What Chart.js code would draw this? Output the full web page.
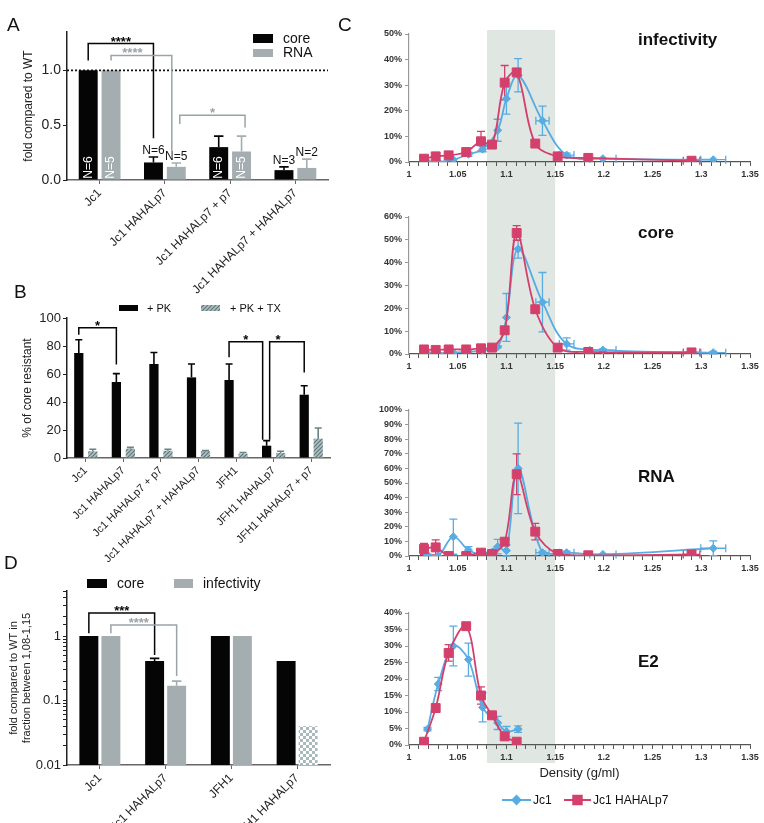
<!DOCTYPE html>
<html>
<head>
<meta charset="utf-8">
<script src="https://cdn.jsdelivr.net/npm/chart.js@4.4.1/dist/chart.umd.min.js"></script>
<style>
  body { margin: 0; background: #fff; }
  #fig { position: relative; width: 764px; height: 823px; overflow: hidden; background: #fff; font-family: 'Liberation Sans', Arial, sans-serif; }
  #fig canvas { position: absolute; }
  .tag { position: absolute; font-size: 19px; line-height: 19px; color: #111; }
</style>
</head>
<body>
<div id="fig">
  <canvas id="chartA" width="350" height="295" style="left:0;top:0"></canvas>
  <canvas id="chartB" width="350" height="300" style="left:0;top:265px"></canvas>
  <canvas id="chartD" width="350" height="258" style="left:0;top:565px"></canvas>
  <canvas id="chartC1" width="404" height="190" style="left:360px;top:0"></canvas>
  <canvas id="chartC2" width="404" height="200" style="left:360px;top:190px"></canvas>
  <canvas id="chartC3" width="404" height="200" style="left:360px;top:390px"></canvas>
  <canvas id="chartC4" width="404" height="233" style="left:360px;top:590px"></canvas>
  <div class="tag" style="left:7px;top:15px">A</div>
  <div class="tag" style="left:14px;top:282px">B</div>
  <div class="tag" style="left:338px;top:15px">C</div>
  <div class="tag" style="left:4px;top:553px">D</div>
</div>
<script>
// ---- panel A: fold compared to WT
const catA = ['Jc1', 'Jc1 HAHALp7', 'Jc1 HAHALp7 + p7', 'Jc1 HAHALp7 + HAHALp7'];
const coreA = [1.0, 0.16, 0.30, 0.09];
const coreErrA = [0, 0.05, 0.10, 0.03];
const rnaA = [1.0, 0.12, 0.26, 0.11];
const rnaErrA = [0, 0.035, 0.14, 0.08];
const coreNA = ['N=6', 'N=6', 'N=6', 'N=3'];
const rnaNA = ['N=5', 'N=5', 'N=5', 'N=2'];

// ---- panel B: % of core resistant
const catB = ['Jc1', 'Jc1 HAHALp7', 'Jc1 HAHALp7 + p7', 'Jc1 HAHALp7 + HAHALp7', 'JFH1', 'JFH1 HAHALp7', 'JFH1 HAHALp7 + p7'];
const pkB = [75, 54.3, 67.1, 57.6, 55.7, 8.8, 45.2];
const pkErrB = [9.5, 6, 8.3, 9.5, 11.4, 3.6, 6.4];
const pktxB = [4.8, 6.6, 5.2, 4.8, 3.1, 3.6, 13.8];
const pktxErrB = [1.4, 1, 1, 0.5, 0.8, 1.2, 7.6];

// ---- panel D: fold in fraction 1.08-1.15 (log)
const catD = ['Jc1', 'Jc1 HAHALp7', 'JFH1', 'JFH1 HAHALp7'];
const coreD = [1, 0.41, 1, 0.41];
const coreErrD = [0, 0.04, 0, 0];
const infD = [1, 0.17, 1, 0.04];
const infErrD = [0, 0.03, 0, 0];

// ---- panel C: gradient fractions
const jc1Density = [1.019, 1.030, 1.0455, 1.061, 1.0756, 1.091, 1.100, 1.112, 1.137, 1.1618, 1.199, 1.3123];
const jc1DensityErr = [0, 0, 0, 0, 0, 0, 0, 0, 0.0068, 0.0075, 0.0135, 0.0128];
const hahDensity = [1.0154, 1.0274, 1.0407, 1.0587, 1.0739, 1.0852, 1.0982, 1.1105, 1.1296, 1.1526, 1.184, 1.29];
const hahDensityErr = [0, 0, 0, 0, 0, 0, 0, 0, 0, 0, 0, 0.0085];
const bandRange = [1.08, 1.15];

const infJc1 = [0, 0, 0.9, 3, 5, 12.4, 24.7, 33.9, 16.1, 2.7, 1.3, 0.9];
const infJc1Err = [0, 0, 0, 0.8, 1, 4.3, 6, 6.5, 5.7, 0.8, 0, 0];
const infHah = [1.3, 2.2, 2.6, 3.9, 8.1, 6.8, 31, 35, 7.2, 2.2, 1.6, 0.5];
const infHahErr = [0, 0, 0, 0, 3.9, 0, 6.7, 1, 0, 0, 0, 0];

const coreJc1 = [0.3, 0.3, 0.6, 1.0, 1.5, 3.2, 16, 46, 22.7, 4.4, 1.7, 0.6];
const coreJc1Err = [0, 0, 0, 0, 0, 0.5, 10.5, 4, 13, 2.7, 0.5, 0.5];
const coreHah = [2.0, 1.8, 2.0, 2.0, 2.5, 2.8, 10.4, 53, 19.6, 2.8, 0.9, 0.7];
const coreHahErr = [0, 0, 0, 0, 0, 0, 1.6, 3.2, 1.5, 0, 0, 0];

const rnaJc1 = [0.7, 0, 13.2, 4.1, 1.4, 6.4, 3.7, 60, 2.3, 2.3, 1.1, 5.3];
const rnaJc1Err = [0.5, 0, 12, 2.3, 0.5, 5, 4, 31, 1, 1, 0.5, 5];
const rnaHah = [4.8, 5.9, 0, 0, 2.3, 1.4, 9.8, 56, 16.7, 1.4, 0.5, 1.1];
const rnaHahErr = [3.9, 5.1, 0, 0, 0, 0, 0, 14, 5.7, 0, 0, 0];

const e2Jc1 = [4.8, 18.5, 30, 25.9, 11.4, 6.7, 4.1, 4.8];
const e2Jc1Err = [0.5, 2, 6, 5, 4.4, 2, 1.5, 1];
const e2Hah = [1.0, 11.2, 27.9, 36, 15, 9, 2.6, 1.0];
const e2HahErr = [0, 0, 2.5, 0, 2.6, 0, 0, 0];

const FONT = "'Liberation Sans', Arial, sans-serif";
const BLACK = '#050505';
const GREY = '#a4aeb1';
const GREY_LINE = '#9aa3a6';
const BLUE = '#58ace2';
const RED = '#d3406b';
const BAND = '#e0e6e2';

Chart.defaults.font.family = FONT;
Chart.defaults.color = '#222';
Chart.defaults.animation = false;
Chart.defaults.responsive = false;
Chart.defaults.plugins.legend.display = false;
Chart.defaults.plugins.tooltip.enabled = false;

// ---------- helper plugins ----------
function barErrors(errSets, colors) {
  return {
    id: 'barErrors',
    afterDatasetsDraw(chart) {
      const ctx = chart.ctx, ys = chart.scales.y;
      errSets.forEach((errs, di) => {
        const vals = chart.data.datasets[di].data;
        chart.getDatasetMeta(di).data.forEach((bar, i) => {
          if (!errs[i]) return;
          const top = ys.getPixelForValue(vals[i] + errs[i]);
          const half = Math.max(3.5, bar.width * 0.25);
          ctx.save();
          ctx.strokeStyle = colors[di];
          ctx.lineWidth = 1.6;
          ctx.beginPath();
          ctx.moveTo(bar.x, bar.y);
          ctx.lineTo(bar.x, top);
          ctx.moveTo(bar.x - half, top);
          ctx.lineTo(bar.x + half, top);
          ctx.stroke();
          ctx.restore();
        });
      });
    }
  };
}

function brackets(items) {
  return {
    id: 'brackets',
    afterDatasetsDraw(chart) {
      const ctx = chart.ctx, ys = chart.scales.y;
      items.forEach(b => {
        const x0 = chart.getDatasetMeta(b.from[0]).data[b.from[1]].x + (b.dx0 || 0);
        const x1 = chart.getDatasetMeta(b.to[0]).data[b.to[1]].x + (b.dx1 || 0);
        const yt = ys.getPixelForValue(b.top);
        ctx.save();
        ctx.strokeStyle = b.color;
        ctx.lineWidth = 1.5;
        ctx.beginPath();
        ctx.moveTo(x0, ys.getPixelForValue(b.fromY));
        ctx.lineTo(x0, yt);
        ctx.lineTo(x1, yt);
        ctx.lineTo(x1, ys.getPixelForValue(b.toY));
        ctx.stroke();
        ctx.fillStyle = b.color;
        ctx.font = 'bold 13px ' + FONT;
        ctx.textAlign = 'center';
        ctx.textBaseline = 'alphabetic';
        ctx.fillText(b.text, (x0 + x1) / 2 + (b.tdx || 0), yt + 2);
        ctx.restore();
      });
    }
  };
}

function boxLegend(items, size) {
  return {
    id: 'boxLegend',
    afterDraw(chart) {
      const ctx = chart.ctx;
      ctx.save();
      ctx.font = size + 'px ' + FONT;
      ctx.textBaseline = 'middle';
      items.forEach(it => {
        ctx.fillStyle = it.fill;
        ctx.fillRect(it.x, it.y, it.w, it.h);
        ctx.fillStyle = '#111';
        ctx.fillText(it.text, it.tx, it.y + it.h / 2 + 0.5);
      });
      ctx.restore();
    }
  };
}

function refLine(value) {
  return {
    id: 'refLine',
    afterDatasetsDraw(chart) {
      const {ctx, chartArea} = chart;
      const y = chart.scales.y.getPixelForValue(value);
      ctx.save();
      ctx.strokeStyle = '#111';
      ctx.lineWidth = 1.8;
      ctx.setLineDash([2, 2]);
      ctx.beginPath();
      ctx.moveTo(chartArea.left, y);
      ctx.lineTo(chartArea.right, y);
      ctx.stroke();
      ctx.restore();
    }
  };
}

function nLabels(sets) {
  return {
    id: 'nLabels',
    afterDatasetsDraw(chart) {
      const ctx = chart.ctx, ys = chart.scales.y;
      sets.forEach(s => {
        const vals = chart.data.datasets[s.di].data;
        chart.getDatasetMeta(s.di).data.forEach((bar, i) => {
          ctx.save();
          ctx.font = '12px ' + FONT;
          ctx.textAlign = 'center';
          if (bar.base - bar.y > 26) {
            ctx.translate(bar.x, bar.base - 12);
            ctx.rotate(-Math.PI / 2);
            ctx.fillStyle = '#fff';
            ctx.textBaseline = 'middle';
            ctx.fillText(s.texts[i], 0, 0);
          } else {
            const top = ys.getPixelForValue(vals[i] + s.errs[i]);
            ctx.fillStyle = '#111';
            ctx.textBaseline = 'bottom';
            ctx.fillText(s.texts[i], bar.x, top);
          }
          ctx.restore();
        });
      });
    }
  };
}

function makePattern(canvasId, kind) {
  const c = document.createElement('canvas');
  const g = c.getContext('2d');
  if (kind === 'hatch') {
    c.width = c.height = 4;
    g.fillStyle = '#aebfc1';
    g.fillRect(0, 0, 4, 4);
    g.strokeStyle = '#5d7478';
    g.lineWidth = 1.1;
    g.beginPath();
    g.moveTo(0, 4); g.lineTo(4, 0);
    g.moveTo(-1, 1); g.lineTo(1, -1);
    g.moveTo(3, 5); g.lineTo(5, 3);
    g.stroke();
  } else {
    c.width = c.height = 6;
    g.fillStyle = '#ffffff';
    g.fillRect(0, 0, 6, 6);
    g.fillStyle = '#a7babe';
    g.fillRect(0, 0, 3, 3);
    g.fillRect(3, 3, 3, 3);
  }
  return document.getElementById(canvasId).getContext('2d').createPattern(c, 'repeat');
}

function barX(height, size) {
  return {
    ticks: { autoSkip: false, minRotation: 45, maxRotation: 45, font: { size: size }, color: '#222', padding: 2 },
    grid: { display: true, drawOnChartArea: false, offset: false, tickLength: 4, color: '#666' },
    border: { color: '#666', width: 1.5 },
    afterFit: s => { s.height = height; }
  };
}

function barY(title, pad, extra) {
  return Object.assign({
    ticks: { font: { size: 14 }, color: '#222', padding: 2 },
    grid: { drawOnChartArea: false, tickLength: 4, color: '#222' },
    border: { color: '#222', width: 1.5 },
    title: { display: true, text: title, font: { size: 12 }, color: '#222', padding: { top: pad, bottom: 0 } },
    afterFit: s => { s.width = 67; }
  }, extra);
}

// ---------- panel A ----------
new Chart('chartA', {
  type: 'bar',
  data: {
    labels: catA,
    datasets: [
      { label: 'core', data: coreA, backgroundColor: BLACK, barPercentage: 0.83, categoryPercentage: 0.7 },
      { label: 'RNA', data: rnaA, backgroundColor: GREY, barPercentage: 0.83, categoryPercentage: 0.7 }
    ]
  },
  options: {
    layout: { padding: { top: 32, right: 22, left: 0, bottom: 0 } },
    scales: {
      x: barX(115, 12),
      y: barY('fold compared to WT', 21, {
        min: 0, max: 1.35,
        ticks: { stepSize: 0.5, includeBounds: false, font: { size: 14 }, color: '#222', padding: 2, callback: v => v.toFixed(1) }
      })
    }
  },
  plugins: [
    refLine(1),
    barErrors([coreErrA, rnaErrA], [BLACK, GREY]),
    nLabels([{ di: 0, texts: coreNA, errs: coreErrA }, { di: 1, texts: rnaNA, errs: rnaErrA }]),
    brackets([
      { from: [0, 0], to: [0, 1], fromY: 1.09, top: 1.245, toY: 0.38, color: BLACK, text: '****' },
      { from: [1, 0], to: [1, 1], fromY: 1.09, top: 1.136, toY: 0.2, dx1: -4.5, tdx: -9, color: GREY_LINE, text: '****' },
      { from: [1, 1], to: [1, 2], fromY: 0.51, top: 0.59, toY: 0.48, dx0: 3.5, dx1: 3.5, color: GREY_LINE, text: '*' }
    ]),
    boxLegend([
      { x: 253, y: 34, w: 20, h: 9, fill: BLACK, text: 'core', tx: 283 },
      { x: 253, y: 49, w: 20, h: 8, fill: GREY, text: 'RNA', tx: 283 }
    ], 14)
  ]
});

// ---------- panel B ----------
const hatchB = makePattern('chartB', 'hatch');
new Chart('chartB', {
  type: 'bar',
  data: {
    labels: catB,
    datasets: [
      { label: '+ PK', data: pkB, backgroundColor: BLACK, barPercentage: 0.66, categoryPercentage: 0.745 },
      { label: '+ PK + TX', data: pktxB, backgroundColor: hatchB, barPercentage: 0.66, categoryPercentage: 0.745 }
    ]
  },
  options: {
    layout: { padding: { top: 53, right: 20, left: 0, bottom: 0 } },
    scales: {
      x: barX(107, 11),
      y: barY('% of core resistant', 20, {
        min: 0, max: 100,
        ticks: { stepSize: 20, font: { size: 13 }, color: '#222', padding: 2 }
      })
    }
  },
  plugins: [
    barErrors([pkErrB, pktxErrB], [BLACK, '#6a8185']),
    brackets([
      { from: [0, 0], to: [0, 1], fromY: 88, top: 93, toY: 66.7, color: BLACK, text: '*' },
      { from: [0, 4], to: [0, 5], fromY: 72, top: 83, toY: 13, dx1: -4, color: BLACK, text: '*' },
      { from: [0, 5], to: [0, 6], fromY: 13, top: 83, toY: 61, dx0: 3, tdx: -9, color: BLACK, text: '*' }
    ]),
    boxLegend([
      { x: 119, y: 40, w: 19, h: 6, fill: BLACK, text: '+ PK', tx: 147 },
      { x: 201, y: 40, w: 19, h: 6, fill: hatchB, text: '+ PK + TX', tx: 230 }
    ], 11)
  ]
});

// ---------- panel D ----------
const checkD = makePattern('chartD', 'check');
new Chart('chartD', {
  type: 'bar',
  data: {
    labels: catD,
    datasets: [
      { label: 'core', data: coreD, backgroundColor: BLACK, barPercentage: 0.86, categoryPercentage: 0.67 },
      { label: 'infectivity', data: infD, backgroundColor: [GREY, GREY, GREY, checkD], barPercentage: 0.86, categoryPercentage: 0.67 }
    ]
  },
  options: {
    layout: { padding: { top: 26, right: 20, left: 0, bottom: 0 } },
    scales: {
      x: barX(58, 12),
      y: barY(['fold compared to WT in', 'fraction between 1,08-1,15'], 8, {
        type: 'logarithmic', min: 0.01, max: 5,
        ticks: {
          font: { size: 13 }, color: '#222', padding: 2, autoSkip: false,
          callback: v => {
            const l = Math.log10(v);
            return Math.abs(l - Math.round(l)) < 1e-6 ? String(Number(v.toPrecision(3))) : '';
          }
        },
        title: { display: true, text: ['fold compared to WT in', 'fraction between 1,08-1,15'], font: { size: 11, lineHeight: 1.15 }, color: '#222', padding: { top: 8, bottom: 0 } }
      })
    }
  },
  plugins: [
    barErrors([coreErrD, infErrD], [BLACK, GREY]),
    brackets([
      { from: [0, 0], to: [0, 1], fromY: 1.11, top: 2.27, toY: 0.507, color: BLACK, text: '***' },
      { from: [1, 0], to: [1, 1], fromY: 1.11, top: 1.48, toY: 0.24, tdx: -5, color: GREY_LINE, text: '****' }
    ]),
    boxLegend([
      { x: 87, y: 14, w: 20, h: 9, fill: BLACK, text: 'core', tx: 117 },
      { x: 174, y: 14, w: 19, h: 9, fill: GREY, text: 'infectivity', tx: 203 }
    ], 14)
  ]
});

// ---------- panel C ----------
function bandPlugin(top, bottom) {
  return {
    id: 'band',
    beforeDraw(chart) {
      const xs = chart.scales.x, ctx = chart.ctx;
      const x0 = xs.getPixelForValue(bandRange[0]), x1 = xs.getPixelForValue(bandRange[1]);
      ctx.save();
      ctx.fillStyle = BAND;
      ctx.fillRect(x0, top, x1 - x0, (bottom === null ? chart.height : bottom) - top);
      ctx.restore();
    }
  };
}

function densityErrors(list) {
  return {
    id: 'densityErrors',
    beforeDatasetsDraw(chart) {
      const ctx = chart.ctx, xs = chart.scales.x, ys = chart.scales.y;
      list.forEach(e => {
        const pts = chart.data.datasets[e.di].data;
        ctx.save();
        ctx.strokeStyle = e.color;
        ctx.lineWidth = 1.3;
        ctx.beginPath();
        pts.forEach((p, i) => {
          const px = xs.getPixelForValue(p.x), py = ys.getPixelForValue(p.y);
          const dy = e.yErr[i] || 0, dx = e.xErr[i] || 0;
          if (dy) {
            const a = ys.getPixelForValue(p.y + dy), b = ys.getPixelForValue(Math.max(p.y - dy, 0));
            ctx.moveTo(px, a); ctx.lineTo(px, b);
            ctx.moveTo(px - 4, a); ctx.lineTo(px + 4, a);
            ctx.moveTo(px - 4, b); ctx.lineTo(px + 4, b);
          }
          if (dx) {
            const l = xs.getPixelForValue(p.x - dx), r = xs.getPixelForValue(p.x + dx);
            ctx.moveTo(l, py); ctx.lineTo(r, py);
            ctx.moveTo(l, py - 4); ctx.lineTo(l, py + 4);
            ctx.moveTo(r, py - 4); ctx.lineTo(r, py + 4);
          }
        });
        ctx.stroke();
        ctx.restore();
      });
    }
  };
}

function panelTitle(text, xv, yv) {
  return {
    id: 'panelTitle',
    afterDraw(chart) {
      const ctx = chart.ctx;
      ctx.save();
      ctx.font = 'bold 17px ' + FONT;
      ctx.fillStyle = '#111';
      ctx.textBaseline = 'middle';
      ctx.fillText(text, chart.scales.x.getPixelForValue(xv), chart.scales.y.getPixelForValue(yv));
      ctx.restore();
    }
  };
}

function lineLegend(items) {
  return {
    id: 'lineLegend',
    afterDraw(chart) {
      const ctx = chart.ctx;
      ctx.save();
      ctx.font = '12px ' + FONT;
      ctx.textBaseline = 'middle';
      items.forEach(it => {
        ctx.strokeStyle = it.color;
        ctx.lineWidth = 2;
        ctx.beginPath();
        ctx.moveTo(it.x0, it.y);
        ctx.lineTo(it.x1, it.y);
        ctx.stroke();
        ctx.fillStyle = it.color;
        Chart.helpers.drawPoint(ctx, { pointStyle: it.style, radius: it.radius, borderWidth: 1 }, (it.x0 + it.x1) / 2, it.y);
        ctx.fillStyle = '#111';
        ctx.fillText(it.text, it.x1 + 2, it.y + 0.5);
      });
      ctx.restore();
    }
  };
}

const pts = (xs, ys) => ys.map((y, i) => ({ x: xs[i], y: y }));
const densityTick = v => {
  const r = Math.round(v * 100);
  return r % 5 ? '' : String(Number((r / 100).toFixed(2)));
};

function densityChart(id, o) {
  return new Chart(id, {
    type: 'scatter',
    data: {
      datasets: [
        { label: 'Jc1 HAHALp7', data: pts(hahDensity, o.hah), borderColor: RED, backgroundColor: RED,
          pointStyle: 'rect', pointRadius: 6.3, pointBorderWidth: 1, borderWidth: 1.8, showLine: true, tension: 0.35, order: 0 },
        { label: 'Jc1', data: pts(jc1Density, o.jc1), borderColor: BLUE, backgroundColor: BLUE,
          pointStyle: 'rectRot', pointRadius: 4, pointBorderWidth: 1, borderWidth: 1.8, showLine: true, tension: 0.35, order: 1 }
      ]
    },
    options: {
      layout: { padding: { top: o.padTop, right: 14, left: 0, bottom: 0 } },
      scales: {
        x: {
          type: 'linear', min: 1, max: 1.35,
          ticks: { stepSize: 0.01, autoSkip: false, maxRotation: 0, callback: densityTick, font: { size: 9, weight: 'bold' }, color: '#333', padding: 3 },
          grid: { drawOnChartArea: false, tickLength: 4, color: '#555' },
          border: { color: '#555', width: 1.2 },
          title: o.xTitle || { display: false },
          afterFit: s => { s.height = o.xHeight; }
        },
        y: {
          min: 0, max: o.yMax,
          ticks: { stepSize: o.yStep, callback: v => v + '%', font: { size: 9, weight: 'bold' }, color: '#333', padding: 3 },
          grid: { drawOnChartArea: false, tickLength: 4, color: '#999' },
          border: { color: '#999', width: 1.2 },
          afterFit: s => { s.width = 49; }
        }
      }
    },
    plugins: [
      bandPlugin(o.bandTop, o.bandBottom),
      densityErrors([
        { di: 1, yErr: o.jc1Err, xErr: jc1DensityErr, color: BLUE },
        { di: 0, yErr: o.hahErr, xErr: hahDensityErr, color: RED }
      ]),
      panelTitle(o.title, 1.235, o.titleY)
    ].concat(o.extra || [])
  });
}

densityChart('chartC1', {
  jc1: infJc1, jc1Err: infJc1Err, hah: infHah, hahErr: infHahErr,
  yMax: 50, yStep: 10, padTop: 34, xHeight: 28, bandTop: 30, bandBottom: null,
  title: 'infectivity', titleY: 47.7
});

densityChart('chartC2', {
  jc1: coreJc1, jc1Err: coreJc1Err, hah: coreHah, hahErr: coreHahErr,
  yMax: 60, yStep: 10, padTop: 27, xHeight: 36, bandTop: 0, bandBottom: null,
  title: 'core', titleY: 53
});

densityChart('chartC3', {
  jc1: rnaJc1, jc1Err: rnaJc1Err, hah: rnaHah, hahErr: rnaHahErr,
  yMax: 100, yStep: 10, padTop: 20, xHeight: 34, bandTop: 0, bandBottom: null,
  title: 'RNA', titleY: 54
});

densityChart('chartC4', {
  jc1: e2Jc1, jc1Err: e2Jc1Err, hah: e2Hah, hahErr: e2HahErr,
  yMax: 40, yStep: 5, padTop: 23, xHeight: 78, bandTop: 0, bandBottom: 173,
  title: 'E2', titleY: 25.2,
  xTitle: { display: true, text: 'Density (g/ml)', font: { size: 13 }, color: '#222', padding: { top: 0, bottom: 42 } },
  extra: [lineLegend([
    { x0: 142, x1: 171, y: 210, color: BLUE, style: 'rectRot', radius: 4, text: 'Jc1' },
    { x0: 204, x1: 231, y: 210, color: RED, style: 'rect', radius: 6, text: 'Jc1 HAHALp7' }
  ])]
});
</script>
</body>
</html>
